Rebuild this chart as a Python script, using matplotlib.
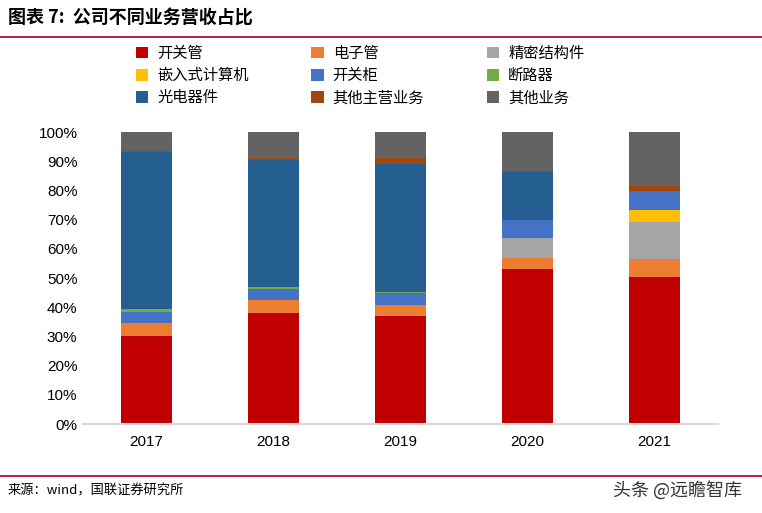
import matplotlib
matplotlib.use('agg')
import matplotlib.pyplot as plt
import numpy as np
from matplotlib.lines import Line2D
from matplotlib.patches import Patch

plt.rcParams['font.family'] = ['Liberation Sans', 'Noto Sans CJK SC', 'DejaVu Sans']

# 数据：各业务营收占比（%）
years = ['2017', '2018', '2019', '2020', '2021']
series_names = ['开关管', '电子管', '精密结构件', '嵌入式计算机', '开关柜',
                '断路器', '光电器件', '其他主营业务', '其他业务']
kaiguanguan = [30.1, 38.0, 37.0, 53.1, 50.3]
dianziguan = [4.5, 4.5, 3.8, 3.7, 6.2]
jingmi = [0.0, 0.0, 0.0, 6.9, 12.7]
qianrushi = [0.0, 0.0, 0.0, 0.0, 4.1]
kaiguangui = [3.8, 3.7, 4.1, 6.2, 6.5]
duanluqi = [1.0, 0.7, 0.3, 0.0, 0.0]
guangdian = [53.8, 43.5, 43.8, 16.4, 0.0]
qita_zhuying = [0.3, 0.7, 2.1, 0.3, 1.7]
qita = [6.5, 8.9, 8.9, 13.4, 18.5]
colors = ['#C00000', '#ED7D31', '#A5A5A5', '#FFC000', '#4472C4',
          '#70AD47', '#255E91', '#9E480E', '#636363']

all_series = [kaiguanguan, dianziguan, jingmi, qianrushi, kaiguangui,
              duanluqi, guangdian, qita_zhuying, qita]

fig = plt.figure(figsize=(7.62, 5.13), dpi=100)
ax = fig.add_axes([83 / 762, 1 - 424 / 513, 635 / 762, 292 / 513])

x = np.arange(len(years))
bottom = np.zeros(len(years))
for vals, c in zip(all_series, colors):
    ax.bar(x, vals, 0.4, bottom=bottom, color=c, linewidth=0)
    bottom += np.array(vals)

ax.set_xlim(-0.5, len(years) - 0.5)
ax.set_ylim(0, 100)
ax.set_yticks(range(0, 101, 10))
ax.set_yticklabels([f'{v}%' for v in range(0, 101, 10)], fontsize=11)
ax.set_xticks(x)
ax.set_xticklabels(years, fontsize=11)
for s in ['top', 'right', 'left']:
    ax.spines[s].set_visible(False)
ax.spines['bottom'].set_color('#D9D9D9')
ax.spines['bottom'].set_linewidth(1.5)
ax.tick_params(axis='both', length=0)
ax.tick_params(axis='y', pad=4)
ax.tick_params(axis='x', pad=8)

# 图例：按行排列（matplotlib按列填充，所以重排顺序）
order = [0, 3, 6, 1, 4, 7, 2, 5, 8]
handles = [Patch(facecolor=colors[i], edgecolor='none') for i in order]
labels = [series_names[i] for i in order]
leg = fig.legend(handles, labels, ncol=3, loc='upper left',
                 bbox_to_anchor=(122 / 762, 1 - 31 / 513), frameon=False,
                 prop={'family': ['Noto Sans CJK SC'], 'size': 11},
                 handlelength=0.8, handleheight=0.8, handletextpad=0.6,
                 columnspacing=4.1, labelspacing=0.35)

# 标题与来源
fig.text(8 / 762, 1 - 18 / 513, '图表 7:  公司不同业务营收占比', fontsize=13,
         fontweight='bold', fontstyle='italic', va='center',
         family=['Noto Sans CJK SC', 'DejaVu Sans'])
fig.add_artist(Line2D([0, 1], [1 - 37 / 513] * 2, color='#A50021', lw=1.2))
fig.add_artist(Line2D([0, 1], [1 - 476 / 513] * 2, color='#A50021', lw=1.2))
fig.text(8 / 762, 1 - 491 / 513, '来源：wind，国联证券研究所', fontsize=9.5,
         va='center', family=['Noto Sans CJK SC', 'DejaVu Sans'])
fig.text(742 / 762, 1 - 490 / 513, '头条 @远瞻智库', fontsize=13, ha='right',
         va='center', color='#333333', family=['Noto Sans CJK SC', 'DejaVu Sans'])

fig.savefig('out.png', dpi=100)
